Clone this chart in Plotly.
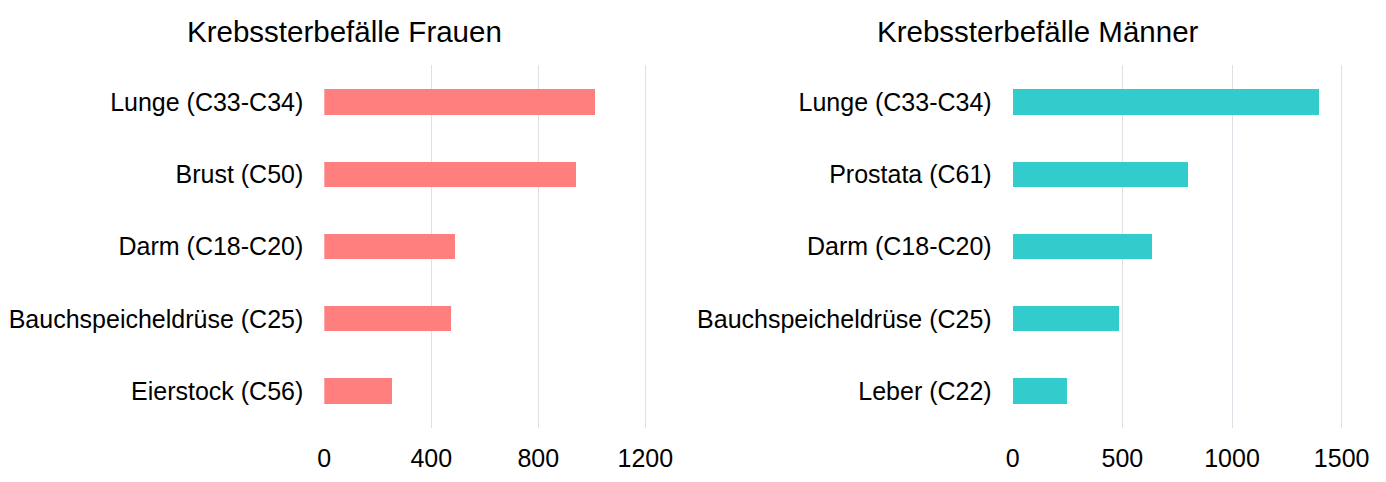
import plotly.graph_objects as go

# Data
frauen_labels = ["Lunge (C33-C34)", "Brust (C50)", "Darm (C18-C20)",
                 "Bauchspeicheldrüse (C25)", "Eierstock (C56)"]
frauen_values = [1012, 943, 489, 474, 253]

maenner_labels = ["Lunge (C33-C34)", "Prostata (C61)", "Darm (C18-C20)",
                  "Bauchspeicheldrüse (C25)", "Leber (C22)"]
maenner_values = [1397, 800, 632, 485, 247]

frauen_ticks = [0, 400, 800, 1200]
maenner_ticks = [0, 500, 1000, 1500]

# page has an 8px body margin, so the figure is drawn 8px in from the corner
PAD = 8
W, H = 1386 - 2 * PAD, 482 - 2 * PAD
FONT = "Liberation Sans, Arial, sans-serif"
PINK = "#FF7F7F"
TEAL = "#33CCCC"
GRID = "#DDE1E7"


def px_x(v):
    return (v - PAD) / W


def px_y(v):
    return 1 - (v - PAD) / H


fig = go.Figure()

fig.add_trace(go.Bar(
    x=frauen_values, y=frauen_labels, orientation="h",
    marker=dict(color=PINK, line=dict(width=0)), width=0.35,
    xaxis="x", yaxis="y", showlegend=False,
))
fig.add_trace(go.Bar(
    x=maenner_values, y=maenner_labels, orientation="h",
    marker=dict(color=TEAL, line=dict(width=0)), width=0.35,
    xaxis="x2", yaxis="y2", showlegend=False,
))

# plot areas in reference pixels
y_dom = [px_y(428), px_y(65)]
left_x0, left_x1 = 324.3, 680
right_x0, right_x1 = 1012.7, 1375
left_scale = 0.2675   # px per unit
right_scale = 0.2193

xaxis_common = dict(
    showgrid=True, gridcolor=GRID, gridwidth=1, zeroline=False,
    showline=False, ticks="", ticklabelstandoff=13, automargin=False,
    tickfont=dict(size=25, color="black", family=FONT),
)
yaxis_common = dict(
    showgrid=False, zeroline=False, showline=False, ticks="",
    ticklabelstandoff=20, autorange=False, range=[4.51, -0.51],
    automargin=False,
    tickfont=dict(size=25, color="black", family=FONT),
)

fig.update_layout(
    width=W, height=H,
    margin=dict(l=0, r=0, t=0, b=0),
    paper_bgcolor="white", plot_bgcolor="white",
    font=dict(family=FONT, color="black"),
    bargap=0,
    xaxis=dict(domain=[px_x(left_x0), px_x(left_x1)],
               range=[0, (left_x1 - left_x0) / left_scale],
               tickvals=frauen_ticks, anchor="y", **xaxis_common),
    yaxis=dict(domain=y_dom, anchor="x", type="category",
               categoryorder="array", categoryarray=frauen_labels, **yaxis_common),
    xaxis2=dict(domain=[px_x(right_x0), px_x(right_x1)],
                range=[0, (right_x1 - right_x0) / right_scale],
                tickvals=maenner_ticks, anchor="y2", **xaxis_common),
    yaxis2=dict(domain=y_dom, anchor="x2", type="category",
                categoryorder="array", categoryarray=maenner_labels, **yaxis_common),
    annotations=[
        dict(text="Krebssterbefälle Frauen", x=px_x(344.5), y=px_y(31),
             xref="paper", yref="paper", showarrow=False,
             xanchor="center", yanchor="middle",
             font=dict(size=29.5, color="black", family=FONT)),
        dict(text="Krebssterbefälle Männer", x=px_x(1037.5), y=px_y(31),
             xref="paper", yref="paper", showarrow=False,
             xanchor="center", yanchor="middle",
             font=dict(size=29.5, color="black", family=FONT)),
    ],
)

fig.write_html("out.html")
